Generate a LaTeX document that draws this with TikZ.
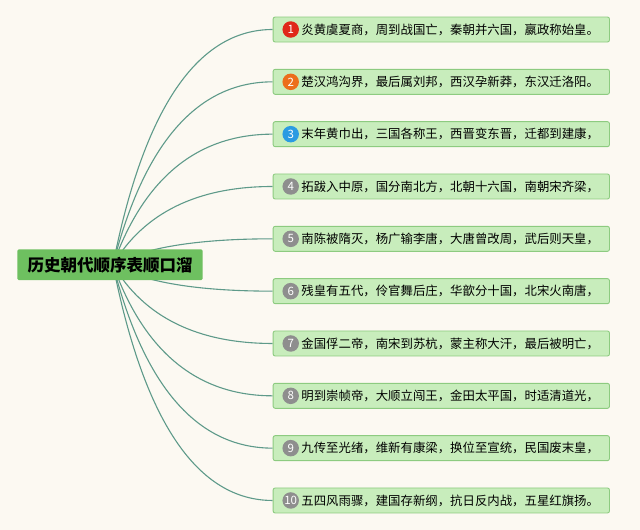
\documentclass[tikz,border=0pt]{standalone}
\usepackage{fontspec}
\newfontfamily\cjk{Noto Sans CJK SC}
\usetikzlibrary{backgrounds,calc}
\definecolor{bgcol}{HTML}{FCF9F2}
\definecolor{rootfill}{HTML}{6EC060}
\definecolor{boxfill}{HTML}{C8EDBC}
\definecolor{boxdraw}{HTML}{8DCB80}
\definecolor{linecol}{HTML}{5E9A8A}
\definecolor{bred}{HTML}{E0281A}
\definecolor{borange}{HTML}{EC6E1C}
\definecolor{bblue}{HTML}{2B9BE2}
\definecolor{bgray}{HTML}{8E8E8E}
\tikzset{
  rootbox/.style={fill=rootfill, rounded corners=1.5pt, minimum width=185.4pt, minimum height=30.7pt, inner sep=0pt,
    font=\cjk\bfseries\fontsize{16.5}{18}\selectfont, text=black},
  branchbox/.style={fill=boxfill, draw=boxdraw, line width=0.9pt, rounded corners=2pt, minimum width=336.3pt, minimum height=25pt, inner sep=0pt, anchor=west},
  badge/.style={circle, fill=#1, minimum size=16.5pt, inner sep=0pt, text=white, font=\cjk\fontsize{11.5}{12}\selectfont},
  branchtext/.style={anchor=west, inner sep=0pt, font=\cjk\fontsize{12.4}{14}\selectfont, text=black},
  conn/.style={draw=linecol, line width=1.1pt}
}
\begin{document}
\begin{tikzpicture}[x=1pt,y=-1pt]
\begin{scope}[on background layer]
\fill[bgcol] (0,0) rectangle (640,530);
\end{scope}
\useasboundingbox (0,0) rectangle (640,530);
\node[rootbox] (root) at (110,264.7) {历史朝代顺序表顺口溜};
\foreach \i/\c/\n/\t in {
  1/bred/1/{炎黄虞夏商，周到战国亡，秦朝并六国，嬴政称始皇。},
  2/borange/2/{楚汉鸿沟界，最后属刘邦，西汉孕新莽，东汉迁洛阳。},
  3/bblue/3/{末年黄巾出，三国各称王，西晋变东晋，迁都到建康，},
  4/bgray/4/{拓跋入中原，国分南北方，北朝十六国，南朝宋齐梁，},
  5/bgray/5/{南陈被隋灭，杨广输李唐，大唐曾改周，武后则天皇，},
  6/bgray/6/{残皇有五代，伶官舞后庄，华歆分十国，北宋火南唐，},
  7/bgray/7/{金国俘二帝，南宋到苏杭，蒙主称大汗，最后被明亡，},
  8/bgray/8/{明到崇帧帝，大顺立闯王，金田太平国，时适清道光，},
  9/bgray/9/{九传至光绪，维新有康梁，换位至宣统，民国废末皇，},
  10/bgray/10/{五四风雨骤，建国存新纲，抗日反内战，五星红旗扬。}}{
  \pgfmathsetmacro{\yy}{29.5+52.33*(\i-1)}
  \node[branchbox] (b\i) at (272.7,\yy) {};
  \node[badge=\c] (n\i) at ($(b\i.west)+(18,0)$) {\n};
  \node[branchtext] (t\i) at ($(b\i.west)+(28.5,0)$) {\t};
  \pgfmathsetmacro{\dy}{(\yy-264.7)*2/3}
  \begin{scope}[on background layer]
    \draw[conn] ($(root.center)+(3,0)$) .. controls +(31,\dy) and +(-75,0) .. (b\i.west);
  \end{scope}
}
\end{tikzpicture}
\end{document}
